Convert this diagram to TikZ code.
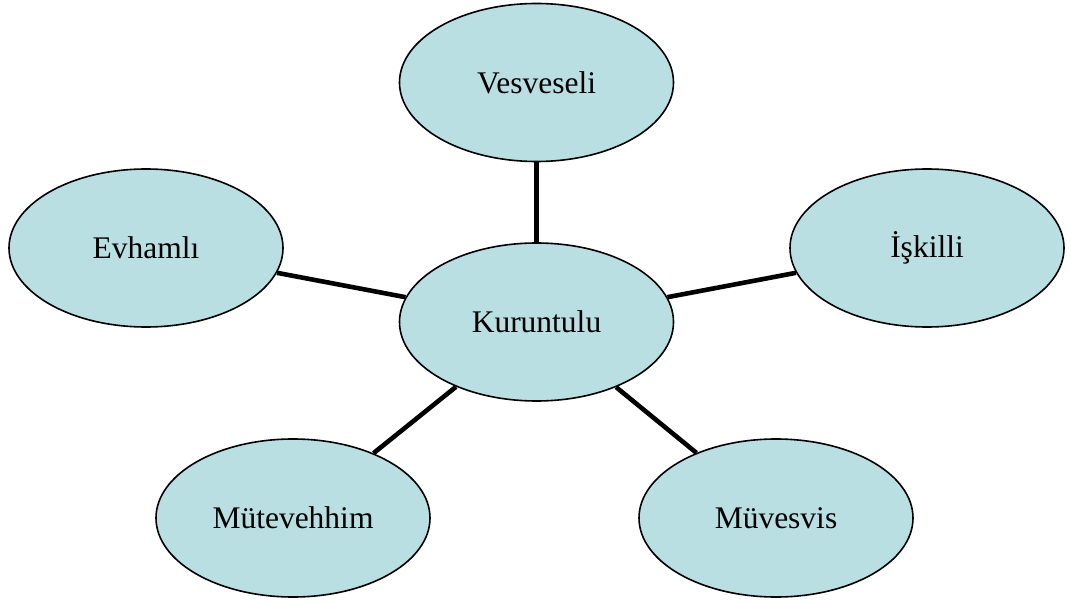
\documentclass[tikz,border=0pt]{standalone}
\usepackage{fontspec}
\setmainfont{Liberation Serif}
\usetikzlibrary{shapes.geometric}
\definecolor{bubble}{HTML}{B9DFE3}
\tikzset{
  bubble/.style={ellipse, draw=black, line width=1.6pt, fill=bubble,
    minimum width=274pt, minimum height=158pt, inner sep=0pt,
    font=\fontsize{31.5}{38}\selectfont},
  link/.style={line width=4.6pt, black}
}
\begin{document}
\begin{tikzpicture}[x=1pt,y=-1pt]
\useasboundingbox (0,0) rectangle (1071,604);
\node[bubble] (c) at (536.5,322) {Kuruntulu};
\node[bubble] (v) at (536.5,82.5) {Vesveseli};
\node[bubble] (e) at (146,248) {Evhamlı};
\node[bubble] (i) at (927,248) {İşkilli};
\node[bubble] (mt) at (293,518) {Mütevehhim};
\node[bubble] (mv) at (776,518) {Müvesvis};
\draw[link] (c) -- (v);
\draw[link] (c) -- (e);
\draw[link] (c) -- (i);
\draw[link] (c) -- (mt);
\draw[link] (c) -- (mv);
\end{tikzpicture}
\end{document}
